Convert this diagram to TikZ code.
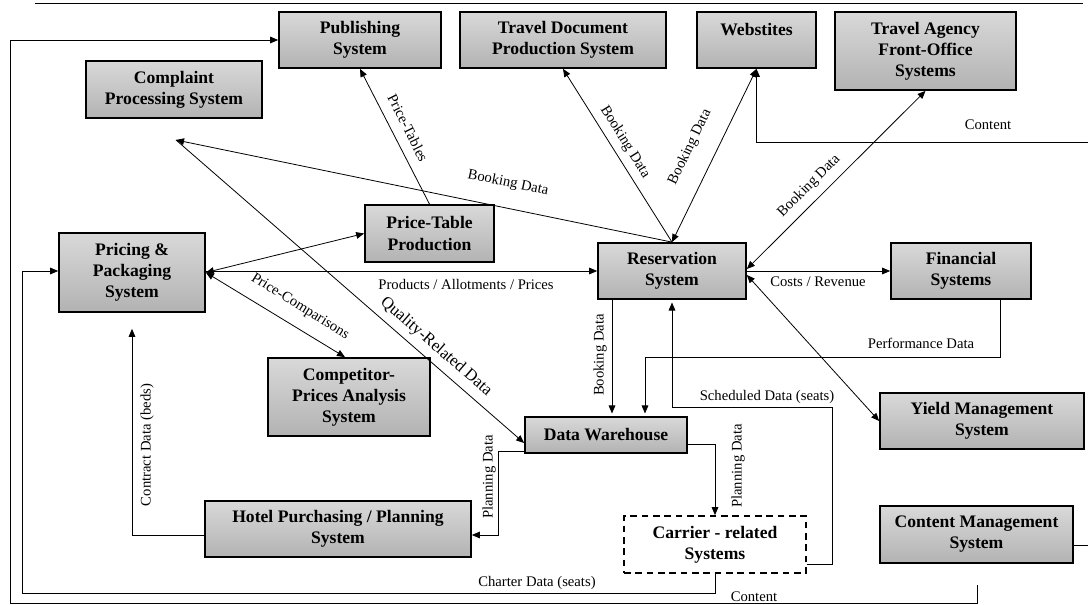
\documentclass[tikz,border=0pt]{standalone}
\usepackage{fontspec}
\setmainfont{Liberation Serif}
\usetikzlibrary{arrows.meta,calc}
\newcommand\boxfont{\fontsize{13.2}{15.8}\selectfont\bfseries}
\newcommand\lblfont{\fontsize{11}{13}\selectfont}
\newcommand\biglblfont{\fontsize{12.5}{14}\selectfont}
\begin{document}
\begin{tikzpicture}[x=0.75pt,y=-0.75pt,
 box/.style={draw, line width=1.3pt, top color=gray!30, middle color=white, bottom color=gray!60, inner sep=0pt, align=center, font=\boxfont},
 dbox/.style={draw, line width=1.3pt, dash pattern=on 5pt off 3.5pt, fill=white, inner sep=0pt, align=center, font=\boxfont},
 arr/.style={-{Triangle[length=6pt,width=5pt]}, line width=0.6pt},
 darr/.style={{Triangle[length=6pt,width=5pt]}-{Triangle[length=6pt,width=5pt]}, line width=0.6pt},
 ln/.style={line width=0.6pt},
 lbl/.style={font=\lblfont, inner sep=1pt}]
\useasboundingbox (0,0) rectangle (1088,605);
\draw[ln] (35,3) -- (1083,3);

% boxes
\node[box, minimum width=162*0.75pt, minimum height=56*0.75pt] (pub) at (360,40) {Publishing\\System};
\node[box, minimum width=206*0.75pt, minimum height=56*0.75pt] (td) at (563,40) {Travel Document\\Production System};
\node[box, minimum width=119*0.75pt, minimum height=56*0.75pt] (web) at (756.5,40) {Webstites\\\mbox{}};
\node[box, minimum width=181*0.75pt, minimum height=78*0.75pt] (ta) at (925.5,51) {Travel Agency\\Front-Office\\Systems};
\node[box, minimum width=176*0.75pt, minimum height=57*0.75pt] (cps) at (174,89.5) {Complaint\\Processing System};
\node[box, minimum width=129*0.75pt, minimum height=57*0.75pt] (ptp) at (429.5,233.5) {Price-Table\\Production};
\node[box, minimum width=146*0.75pt, minimum height=79*0.75pt] (pp) at (132,272.5) {Pricing \&\\Packaging\\System};
\node[box, minimum width=148*0.75pt, minimum height=56*0.75pt] (res) at (672,271) {Reservation\\System};
\node[box, minimum width=140*0.75pt, minimum height=56*0.75pt] (fin) at (961,271) {Financial\\Systems};
\node[box, minimum width=162*0.75pt, minimum height=78*0.75pt] (cpa) at (349,397) {Competitor-\\Prices Analysis\\System};
\node[box, minimum width=162*0.75pt, minimum height=36*0.75pt] (dw) at (606,435) {Data Warehouse};
\node[box, minimum width=204*0.75pt, minimum height=56*0.75pt] (yms) at (982,421) {Yield Management\\System};
\node[box, minimum width=266*0.75pt, minimum height=56*0.75pt] (hps) at (338,529) {Hotel Purchasing / Planning\\System};
\node[dbox, minimum width=182*0.75pt, minimum height=57*0.75pt] (crs) at (715,544.5) {Carrier - related\\Systems};
\node[box, minimum width=193*0.75pt, minimum height=57*0.75pt] (cms) at (976.5,534.5) {Content Management\\System};

% free ends
\coordinate (cc) at (176,140);
\coordinate (ct1) at (1088,142);
\coordinate (cm1) at (977,585);
\coordinate (cm2) at (1088,545);
\coordinate (bd1) at ($(res.south)+(-60,0)$);
\coordinate (pf1) at ($(fin.south)+(39,0)$);
\coordinate (sc1) at ($(crs.east)+(0,19.5)$);

% connectors
\draw[arr] (res.north) -- (cc);
\draw[arr] (cc) -- ($(dw.west)+(0,8)$);
\draw[arr] (res.north) -- (td.south);
\draw[darr] (res.north) -- (web.south);
\draw[darr] ($(res.east)+(0,-2)$) -- (ta.south);
\draw[arr] (res.east) -- (fin.west);
\draw[darr] ($(res.east)+(0,4)$) -- (yms.west);
\draw[arr] (res.west -| pp.east) -- (res.west);
\draw[darr] (pp.east) -- (ptp.west);
\draw[darr] (pp.east) -- ($(cpa.north)+(-4,0)$);
\draw[arr] (ptp.north) -- (pub.south);
\draw[arr, shorten >=2pt] (bd1) -- (bd1 |- dw.north);
\draw[arr, shorten >=2pt] (pf1) -- ++(0,58) -| ($(dw.north)+(39,0)$);
\draw[arr, shorten >=2pt] (sc1) -| (832,407) -| (res.south);
\draw[arr] ($(dw.east)+(0,9)$) -| (crs.north);
\draw[arr] ($(dw.west)+(0,16)$) -- (498,451) |- ($(hps.east)+(0,6)$);
\draw[arr] ($(hps.west)+(0,6)$) -| ($(pp.south)+(0,16)$);
\draw[arr] (crs.south) -- ++(0,20) -| ($(pp.west)+(-36,-1.5)$) -- ($(pp.west)+(0,-1.5)$);
\draw[arr] (cm1) -- ++(0,18) -| ($(pub.west)+(-267.3,0)$) -- (pub.west);
\draw[arr] (ct1) -| (web.south);
\draw[ln] (cm2 -| cms.east) -- (cm2);

% labels
\node[lbl, rotate=-63.3] (l1) at (408,128) {Price-Tables};
\node[lbl, rotate=-11.7] (l2) at (508,183) {Booking Data};
\node[lbl, rotate=-58.1] (l3) at (625,142) {Booking Data};
\node[lbl, rotate=64.4] (l4) at (690,147) {Booking Data};
\node[lbl, rotate=45] (l5) at (809,186) {Booking Data};
\node[lbl] (l6) at (818,282) {Costs / Revenue};
\node[lbl] (l7) at (921,343) {Performance Data};
\node[lbl] (l8) at (767,397) {Scheduled Data (seats)};
\node[lbl, rotate=90] (l9) at (600,355) {Booking Data};
\node[lbl, rotate=90] (l10) at (738,466) {Planning Data};
\node[lbl, rotate=90] (l11) at (489,477) {Planning Data};
\node[lbl, rotate=90] (l12) at (147,445) {Contract Data (beds)};
\node[lbl] (l13) at (466,284) {Products / Allotments / Prices};
\node[lbl, rotate=-31.9] (l14) at (300,307) {Price-Comparisons};
\node[lbl, font=\biglblfont, rotate=-41] (l15) at (436,347) {Quality-Related Data};
\node[lbl] (l16) at (537,583) {Charter Data (seats)};
\node[lbl] (l17) at (754,597) {Content};
\node[lbl] (l18) at (988,125) {Content};
\end{tikzpicture}
\end{document}
